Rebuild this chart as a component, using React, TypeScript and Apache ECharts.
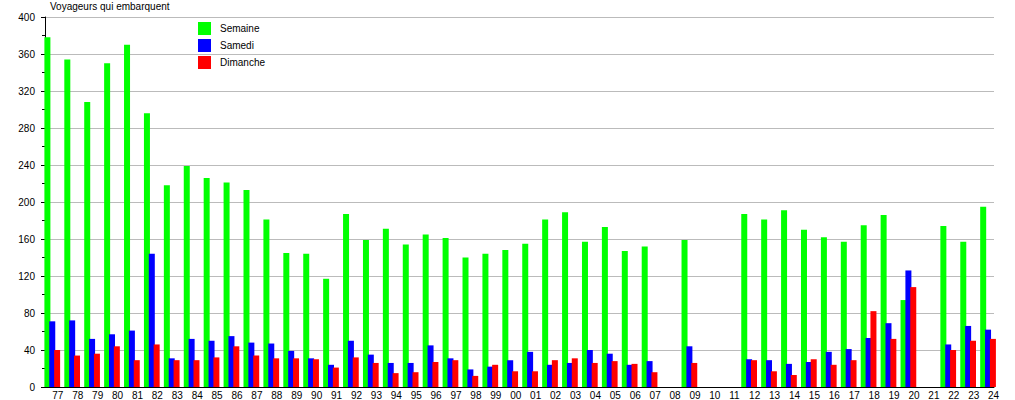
import React, { useEffect, useRef } from "react";
import * as echarts from "echarts";

const categories = [
  "77", "78", "79", "80", "81", "82", "83", "84", "85", "86", "87", "88", "89", "90", "91", "92",
  "93", "94", "95", "96", "97", "98", "99", "00", "01", "02", "03", "04", "05", "06", "07", "08",
  "09", "10", "11", "12", "13", "14", "15", "16", "17", "18", "19", "20", "21", "22", "23", "24",
];

const semaine = [
  378, 354, 308, 350, 370, 296, 218, 239, 226, 221, 213, 181, 145, 144, 117, 187,
  159, 171, 154, 165, 161, 140, 144, 148, 155, 181, 189, 157, 173, 147, 152, null,
  159, null, null, 187, 181, 191, 170, 162, 157, 175, 186, 94, null, 174, 157, 195,
];

const samedi = [
  71, 72, 52, 57, 61, 144, 31, 52, 50, 55, 48, 47, 39, 31, 24, 50,
  35, 26, 26, 45, 31, 19, 22, 29, 38, 24, 26, 40, 36, 24, 28, null,
  44, null, null, 30, 29, 25, 27, 38, 41, 53, 69, 126, null, 46, 66, 62,
];

const dimanche = [
  40, 34, 36, 44, 29, 46, 29, 29, 32, 44, 34, 31, 31, 30, 21, 32,
  26, 15, 16, 27, 29, 12, 24, 17, 17, 29, 31, 26, 28, 25, 16, null,
  26, null, null, 29, 17, 13, 30, 24, 29, 82, 52, 108, null, 40, 50, 52,
];

const yTicks = { min: 0, max: 400, interval: 40 };

const FONT = "'Liberation Sans', Arial, sans-serif";

export default function App() {
  const ref = useRef<HTMLDivElement>(null);

  useEffect(() => {
    if (!ref.current) return;
    const chart = echarts.init(ref.current, undefined, { renderer: "svg" });
    const barStyle = { barWidth: 6, barGap: "-19%" };
    chart.setOption({
      animation: false,
      backgroundColor: "#ffffff",
      textStyle: { fontFamily: FONT },
      title: {
        text: "Voyageurs qui embarquent",
        left: 50,
        top: 1,
        padding: 0,
        textStyle: { fontSize: 10, fontWeight: "normal", color: "#000", fontFamily: FONT },
      },
      legend: {
        orient: "vertical",
        left: 198,
        top: 22,
        padding: 0,
        itemWidth: 13,
        itemHeight: 13,
        itemGap: 4,
        icon: "rect",
        textStyle: { fontSize: 10, color: "#000", fontFamily: FONT, padding: [0, 0, 0, 4] },
        data: ["Semaine", "Samedi", "Dimanche"],
      },
      grid: [
        { left: 45, right: 21, top: 17, height: 370 },
        { left: 42.3, width: 955.7, top: 17, height: 370 },
      ],
      xAxis: [
        {
          type: "category",
          gridIndex: 0,
          data: categories,
          axisLine: { show: true, lineStyle: { color: "#000", width: 1 } },
          axisTick: { show: false },
          axisLabel: { show: false },
          splitLine: { show: false },
        },
        {
          type: "category",
          gridIndex: 1,
          data: categories,
          axisLine: { show: false },
          axisTick: { show: false },
          axisLabel: {
            show: true,
            interval: 0,
            align: "left",
            margin: 3,
            fontSize: 10,
            color: "#000",
            fontFamily: FONT,
          },
          splitLine: { show: false },
        },
      ],
      yAxis: [
        {
          type: "value",
          gridIndex: 0,
          min: yTicks.min,
          max: yTicks.max,
          interval: yTicks.interval,
          axisLine: { show: true, lineStyle: { color: "#000", width: 1 } },
          axisTick: { show: true, length: 4, lineStyle: { color: "#000" } },
          minorTick: { show: true, splitNumber: 2, length: 3, lineStyle: { color: "#000" } },
          axisLabel: { fontSize: 10, color: "#000", margin: 10, fontFamily: FONT },
          splitLine: { show: true, lineStyle: { color: "#bbbbbb", width: 1 } },
        },
        {
          type: "value",
          gridIndex: 1,
          min: yTicks.min,
          max: yTicks.max,
          interval: yTicks.interval,
          show: false,
          splitLine: { show: false },
        },
      ],
      series: [
        {
          name: "Semaine",
          type: "bar",
          xAxisIndex: 1,
          yAxisIndex: 1,
          data: semaine,
          itemStyle: { color: "#00ff00" },
          ...barStyle,
        },
        {
          name: "Samedi",
          type: "bar",
          xAxisIndex: 1,
          yAxisIndex: 1,
          data: samedi,
          itemStyle: { color: "#0000ff" },
          ...barStyle,
        },
        {
          name: "Dimanche",
          type: "bar",
          xAxisIndex: 1,
          yAxisIndex: 1,
          data: dimanche,
          itemStyle: { color: "#ff0000" },
          ...barStyle,
        },
      ],
    });
    return () => chart.dispose();
  }, []);

  return (
    <div
      ref={ref}
      style={{ position: "absolute", left: 0, top: 0, width: 1015, height: 400 }}
    />
  );
}
